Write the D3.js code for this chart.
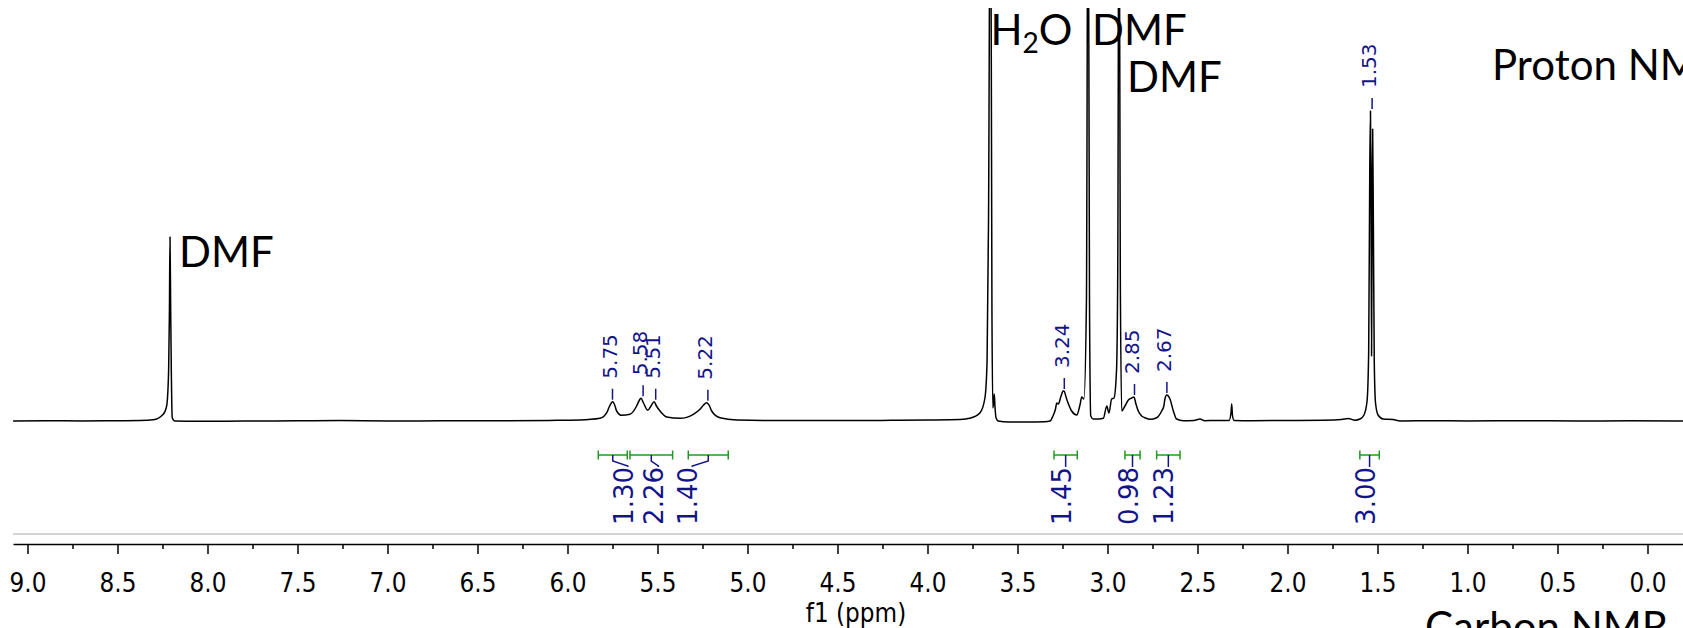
<!DOCTYPE html>
<html>
<head>
<meta charset="utf-8">
<script src="https://cdn.jsdelivr.net/npm/d3@7"></script>
<style>
html,body{margin:0;padding:0;background:#fff;overflow:hidden}
svg{display:block}
</style>
</head>
<body>
<svg id="chart" width="1683" height="628"></svg>
<script>
// ---------------- DATA ----------------
const spectrumPpm = [
9.08, 8.90, 8.70, 8.50, 8.375, 8.301, 8.246, 8.227, 8.216, 8.2115, 8.2083, 8.2045, 8.201, 8.196, 8.181,
8.05, 7.80, 7.50, 7.26, 7.00, 6.70, 6.40, 6.10,
5.931, 5.819, 5.782, 5.766, 5.749, 5.736, 5.727, 5.699, 5.653, 5.616, 5.603, 5.592, 5.578, 5.554,
5.536, 5.519, 5.506, 5.486, 5.449, 5.375, 5.301, 5.264, 5.244, 5.227, 5.211, 5.199, 5.153, 5.060,
4.80, 4.50, 4.20, 4.00, 3.819, 3.760, 3.708, 3.681, 3.669, 3.661, 3.650, 3.642, 3.637, 3.633, 3.629,
3.625, 3.619, 3.607, 3.550, 3.450, 3.350, 3.319, 3.303, 3.289, 3.282, 3.273, 3.258, 3.246, 3.242,
3.227, 3.199, 3.171, 3.153, 3.143, 3.131, 3.117, 3.108, 3.100, 3.093, 3.079, 3.050, 3.023, 3.004,
2.992, 2.977, 2.964, 2.950, 2.943, 2.936, 2.929, 2.921, 2.903, 2.884, 2.866, 2.853, 2.842, 2.829,
2.810, 2.792, 2.764, 2.727, 2.699, 2.687, 2.681, 2.671, 2.653, 2.634, 2.616, 2.579, 2.520, 2.486,
2.460, 2.400, 2.325, 2.314, 2.310, 2.306, 2.297, 2.200, 2.000, 1.800, 1.700, 1.662, 1.625, 1.597,
1.575, 1.558, 1.549, 1.543, 1.539, 1.536, 1.533, 1.530, 1.527, 1.523, 1.518, 1.511, 1.497, 1.469,
1.414, 1.375, 1.200, 1.000, 0.700, 0.400, 0.100, -0.197
];
const spectrumIntensity = [
0, 0.3, 0, 0.3, 0.5, 1.2, 6.7, 15, 50, 110, 184, 110, 50, 3.3, 0,
-0.3, 0, 0.2, 0.4, 0, 0.2, 0.3, 0.6,
1, 2.7, 8.3, 15, 19.3, 15, 10, 5.7, 6.7, 15, 20, 22.7, 18, 10.7,
15, 19.3, 15, 10, 4, 2.7, 6.7, 11.7, 16, 18.3, 15, 10, 3.3, 1,
0.4, 0.4, 0.7, 1, 1.5, 3, 8.3, 23, 60, 200, 620, 110, 13, 18, 27,
14, 3, 0, -1, -1, -0.7, 0, 5, 12, 18, 17, 25, 30, 30,
22, 10, 6, 16, 24, 22, 120, 620, 120, 5, 2, 2, 2.7, 15,
8, 22, 23, 50, 150, 620, 150, 10, 15, 21, 23, 24, 17, 10,
5, 3.3, 1.7, 3.3, 10, 15, 22, 26, 22, 10, 2, 0.3, 0.5, 2,
0.3, 0.5, 0.5, 8, 17, 6, 0.5, 0.3, 0.5, 0.8, 1.5, 2.5, 0.8, 2,
6, 20, 70, 250, 310, 230, 65, 200, 292, 200, 60, 18, 6, 2,
1.5, 0, 0.3, 0, 0.3, 0, 0.2, 0
];
const peakLabelPpm = [5.75, 5.58, 5.51, 5.22, 3.24, 2.85, 2.67, 1.53];
const integralFrom  = [5.829, 5.653, 5.329, 3.297, 2.903, 2.727, 1.598];
const integralTo    = [5.668, 5.416, 5.107, 3.168, 2.819, 2.597, 1.490];
const integralValue = [1.30, 2.26, 1.40, 1.45, 0.98, 1.23, 3.00];
const majorTicks = [9.0, 8.5, 8.0, 7.5, 7.0, 6.5, 6.0, 5.5, 5.0, 4.5, 4.0, 3.5, 3.0, 2.5, 2.0, 1.5, 1.0, 0.5, 0.0];
const minorTicks = [8.75, 8.25, 7.75, 7.25, 6.75, 6.25, 5.75, 5.25, 4.75, 4.25, 3.75, 3.25, 2.75, 2.25, 1.75, 1.25, 0.75, 0.25];
const axisTitle = "f1 (ppm)";

// ---------------- LAYOUT ----------------
const W = 1683, H = 628;
const AXIS_Y = 544, GRAY_Y = 534, BRACKET_Y = 455;
const NAVY = "#141489", GREEN = "#1f9a1f";
const integralLabelShift = [15, 7, -16, 0, 0, 0, 0];

const svg = d3.select("#chart");

const x = d3.scaleLinear().domain([9, 0]).range([27.5, 1647.5]);
const xAxisScale = d3.scaleLinear().domain([x.invert(13), x.invert(W)]).range([13, W]);
const y = d3.scaleLinear().domain([0, 413]).range([421, 8]);

// clip
svg.append("defs").append("clipPath").attr("id", "plotClip")
  .append("rect").attr("x", 13).attr("y", 8).attr("width", W - 13).attr("height", 440);

// spectrum
const pts = spectrumPpm.map((p, i) => [p, spectrumIntensity[i]]);
const line = d3.line().x(d => x(d[0])).y(d => y(d[1])).curve(d3.curveMonotoneX);
svg.append("path")
  .attr("d", line(pts))
  .attr("clip-path", "url(#plotClip)")
  .attr("fill", "none").attr("stroke", "#000").attr("stroke-width", 1.5)
  .attr("stroke-linejoin", "round");

// peak labels
function peakTop(p) {
  let m = 0;
  spectrumPpm.forEach((q, i) => { if (Math.abs(q - p) <= 0.015) m = Math.max(m, spectrumIntensity[i]); });
  return m;
}
peakLabelPpm.forEach(p => {
  const lx = x(p), top = y(peakTop(p));
  svg.append("line").attr("x1", lx).attr("x2", lx).attr("y1", top - 2).attr("y2", top - 13)
    .attr("stroke", NAVY).attr("stroke-width", 1.5);
  svg.append("text")
    .attr("transform", `translate(${lx + 4.3},${top - 23}) rotate(-90)`)
    .attr("text-anchor", "start")
    .attr("font-family", "DejaVu Sans, Verdana, sans-serif")
    .attr("font-size", 20).attr("fill", NAVY)
    .text(p.toFixed(2));
});

// integrals
integralFrom.forEach((a, i) => {
  const b = integralTo[i];
  const x1 = x(a), x2 = x(b), cx = (x1 + x2) / 2;
  const g = svg.append("g");
  g.append("line").attr("x1", x1).attr("x2", x2).attr("y1", BRACKET_Y).attr("y2", BRACKET_Y)
    .attr("stroke", GREEN).attr("stroke-width", 1.5);
  [x1, x2].forEach(xx => g.append("line").attr("x1", xx).attr("x2", xx)
    .attr("y1", BRACKET_Y - 4.5).attr("y2", BRACKET_Y + 4.5)
    .attr("stroke", GREEN).attr("stroke-width", 1.5));
  const lx = cx + integralLabelShift[i];
  const conn = lx === cx
    ? [[cx, BRACKET_Y], [cx, BRACKET_Y + 12]]
    : [[cx, BRACKET_Y], [cx, BRACKET_Y + 6], [lx, BRACKET_Y + 11], [lx, BRACKET_Y + 12]];
  g.append("path").attr("d", d3.line()(conn)).attr("fill", "none")
    .attr("stroke", NAVY).attr("stroke-width", 1.5);
  g.append("text")
    .attr("transform", `translate(${lx + 5.1},${BRACKET_Y + 12}) rotate(-90)`)
    .attr("text-anchor", "end")
    .attr("font-family", "DejaVu Sans, Verdana, sans-serif")
    .attr("font-size", 26).attr("fill", NAVY)
    .text(integralValue[i].toFixed(2));
});

// gray separator
svg.append("line").attr("x1", 13).attr("x2", W).attr("y1", GRAY_Y).attr("y2", GRAY_Y)
  .attr("stroke", "#c4c4c4").attr("stroke-width", 1.5);

// axis
const axisG = svg.append("g").attr("transform", `translate(0,${AXIS_Y})`)
  .call(d3.axisBottom(xAxisScale).tickValues(majorTicks).tickFormat(d3.format(".1f"))
    .tickSize(10).tickSizeOuter(0));
axisG.select(".domain").attr("stroke", "#000").attr("stroke-width", 1.5);
axisG.selectAll(".tick line").attr("stroke", "#000").attr("stroke-width", 1.5);
axisG.selectAll(".tick text")
  .attr("y", 48).attr("dy", null)
  .attr("transform", "scale(0.86,1)")
  .attr("font-family", "DejaVu Sans, Verdana, sans-serif")
  .attr("font-size", 27).attr("fill", "#000");
const minorG = svg.append("g").attr("transform", `translate(0,${AXIS_Y})`)
  .call(d3.axisBottom(xAxisScale).tickValues(minorTicks).tickFormat("").tickSize(5).tickSizeOuter(0));
minorG.select(".domain").remove();
minorG.selectAll(".tick line").attr("stroke", "#000").attr("stroke-width", 1.5);

svg.append("text")
  .attr("transform", "translate(856,622) scale(0.86,1)")
  .attr("text-anchor", "middle")
  .attr("font-family", "DejaVu Sans, Verdana, sans-serif")
  .attr("font-size", 27).attr("fill", "#000")
  .text(axisTitle);

// annotations
const annFont = "Lato, 'Open Sans', sans-serif";
function ann(txt, xx, yy) {
  return svg.append("text").attr("x", xx).attr("y", yy)
    .attr("font-family", annFont).attr("font-size", 42).attr("fill", "#000").text(txt);
}
ann("DMF", x(8.2083) + 9, 267);
const h2o = svg.append("text").attr("x", x(3.650)).attr("y", 45)
  .attr("font-family", annFont).attr("font-size", 42).attr("fill", "#000");
h2o.append("tspan").text("H");
h2o.append("tspan").attr("font-size", 28).attr("dy", 8).text("2");
h2o.append("tspan").attr("dy", -8).text("O");
ann("DMF", x(3.108) + 4, 45);
ann("DMF", x(2.936) + 8, 92);
ann("Proton NMR", 1492, 80);
ann("Carbon NMR", 1425, 642);
</script>
</body>
</html>
